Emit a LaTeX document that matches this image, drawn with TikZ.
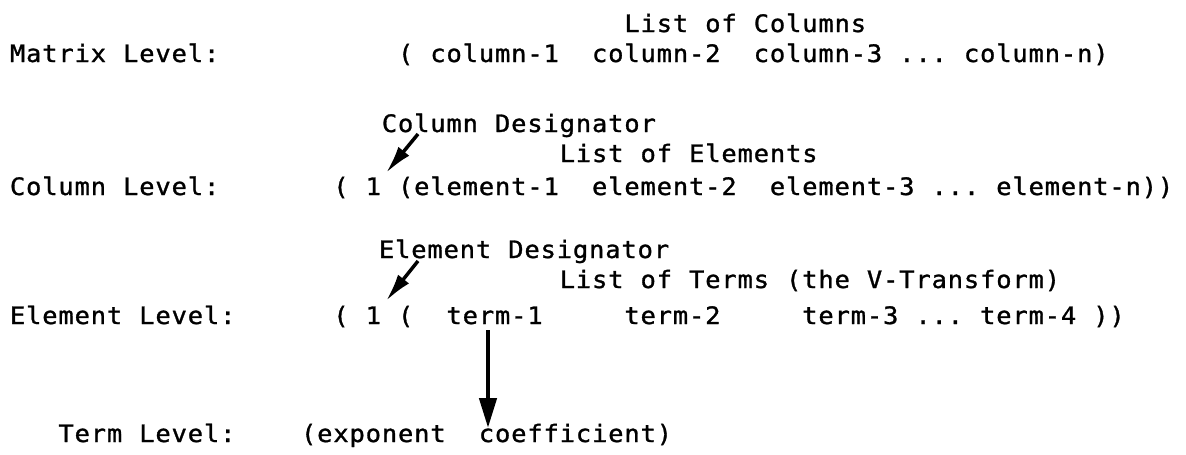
\documentclass[tikz,border=0pt]{standalone}
\usepackage{fontspec}
\newfontfamily\twfont[FakeBold=1.2,FakeStretch=1.06]{DejaVu Sans Mono}
\usetikzlibrary{arrows.meta}
\ExplSyntaxOn
\dim_new:N \l_tw_cell_dim
\dim_set:Nn \l_tw_cell_dim {16.17pt}
\NewDocumentCommand \tw { m }
  {
    \str_map_inline:nn {#1}
      {
        \str_if_eq:nnTF {##1} {_}
          { \hbox_to_wd:nn { \l_tw_cell_dim } { } }
          { \hbox_to_wd:nn { \l_tw_cell_dim } { \hfil ##1 \hfil } }
      }
  }
\ExplSyntaxOff
\tikzset{
  tx/.style={inner sep=0pt, outer sep=0pt, anchor=base west, text=black,
    font=\twfont\fontsize{24pt}{28pt}\selectfont},
  desarrow/.style={draw=black, line width=3.5pt, -{Latex[length=28pt,width=14pt]}},
  termarrow/.style={draw=black, line width=4.5pt, -{Triangle[length=30pt,width=17pt]}}
}
\begin{document}
\begin{tikzpicture}[x=1pt,y=1pt]
\fill[white] (0,0) rectangle (1186,-455);
\useasboundingbox (0,0) rectangle (1186,-455);
% Matrix level
\node[tx] (loc)  at (624.0,-32) {\tw{List of Columns}};
\node[tx] (mlab) at (9.5,-62)   {\tw{Matrix Level:}};
\node[tx] (mrow) at (397.6,-62) {\tw{( column-1__column-2__column-3 ... column-n)}};
% Column level
\node[tx] (cdes) at (381.4,-132) {\tw{Column Designator}};
\node[tx] (loe)  at (559.3,-162) {\tw{List of Elements}};
\node[tx] (clab) at (9.5,-195)   {\tw{Column Level:}};
\node[tx] (crow) at (332.9,-195) {\tw{( 1 (element-1__element-2__element-3 ... element-n))}};
% Element level
\node[tx] (edes) at (378.5,-258) {\tw{Element Designator}};
\node[tx] (lot)  at (559.3,-288) {\tw{List of Terms (the V-Transform)}};
\node[tx] (elab) at (9.5,-324)   {\tw{Element Level:}};
\node[tx] (erow) at (332.9,-324) {\tw{( 1 (__term-1_____term-2_____term-3 ... term-4 ))}};
% Term level
\node[tx] (tlab) at (58.0,-442)  {\tw{Term Level:}};
\node[tx] (trow) at (300.6,-442) {\tw{(exponent__coefficient)}};
% arrows
\coordinate (cdTail) at (418,-134);
\coordinate (cdTip)  at (386,-173);
\coordinate (edTail) at (418,-261);
\coordinate (edTip)  at (386,-301);
\coordinate (tmTail) at (488,-330);
\coordinate (tmTip)  at (488,-428);
\draw[desarrow] (cdTail) -- (cdTip);
\draw[desarrow] (edTail) -- (edTip);
\draw[termarrow] (tmTail) -- (tmTip);
\end{tikzpicture}
\end{document}
